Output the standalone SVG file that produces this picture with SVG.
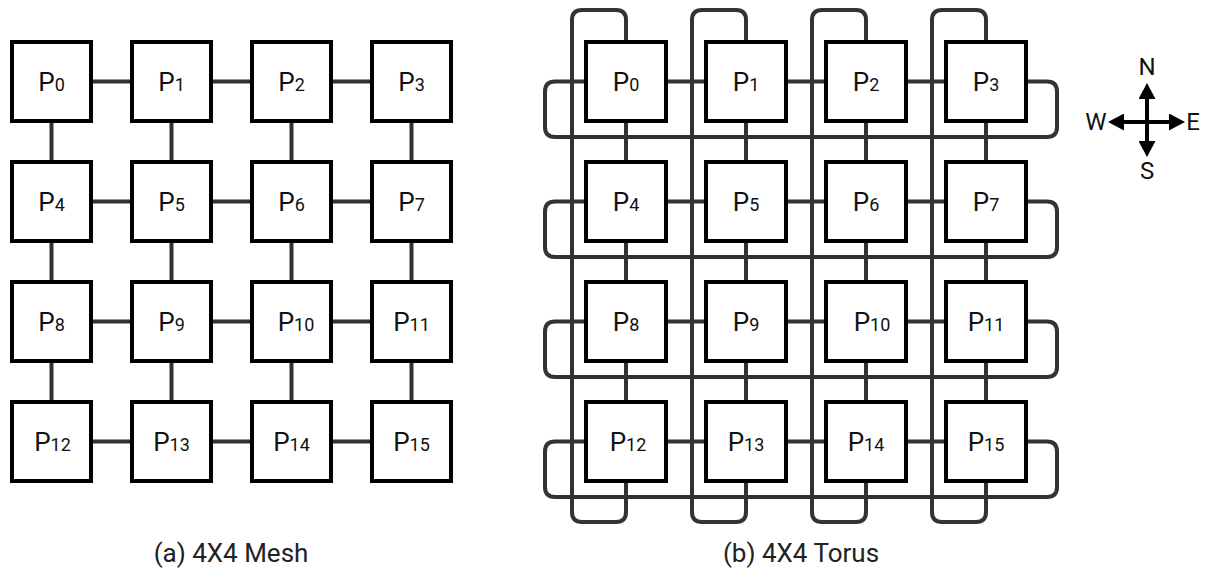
<svg xmlns="http://www.w3.org/2000/svg" width="1208" height="569" viewBox="0 0 1208 569">
<style>
.box{fill:#fff;stroke:#000;stroke-width:4}
.lbl{font-family:Roboto,"Liberation Sans",sans-serif;font-size:26px;fill:#111;text-anchor:middle}
.sub{font-size:18px}
.c{fill:none;stroke:#333;stroke-width:4}
.cap{font-family:Roboto,"Liberation Sans",sans-serif;font-size:26px;fill:#222;text-anchor:middle}
.cmp{font-family:Roboto,"Liberation Sans",sans-serif;font-size:24px;fill:#111;text-anchor:middle}
</style>
<defs>
<marker id="ah" markerUnits="userSpaceOnUse" markerWidth="16" markerHeight="17" viewBox="0 0 16 17" refX="6" refY="8.5" orient="auto">
<path d="M0,0 L16,8.5 L0,17 Z" fill="#000"/>
</marker>
</defs>
<rect width="1208" height="569" fill="#fff"/>

<g id="mesh-connectors" class="c">
<path d="M91,81.5H132M211,81.5H252M331,81.5H372"/>
<path d="M91,201.5H132M211,201.5H252M331,201.5H372"/>
<path d="M91,321.5H132M211,321.5H252M331,321.5H372"/>
<path d="M91,441.5H132M211,441.5H252M331,441.5H372"/>
<path d="M51.5,121V162M51.5,241V282M51.5,361V402"/>
<path d="M171.5,121V162M171.5,241V282M171.5,361V402"/>
<path d="M291.5,121V162M291.5,241V282M291.5,361V402"/>
<path d="M411.5,121V162M411.5,241V282M411.5,361V402"/>
</g>

<g id="mesh-P0"><rect class="box" x="12" y="42" width="79" height="79"/><text class="lbl" x="51.5" y="91">P<tspan class="sub">0</tspan></text></g>
<g id="mesh-P1"><rect class="box" x="132" y="42" width="79" height="79"/><text class="lbl" x="171.5" y="91">P<tspan class="sub">1</tspan></text></g>
<g id="mesh-P2"><rect class="box" x="252" y="42" width="79" height="79"/><text class="lbl" x="291.5" y="91">P<tspan class="sub">2</tspan></text></g>
<g id="mesh-P3"><rect class="box" x="372" y="42" width="79" height="79"/><text class="lbl" x="411.5" y="91">P<tspan class="sub">3</tspan></text></g>
<g id="mesh-P4"><rect class="box" x="12" y="162" width="79" height="79"/><text class="lbl" x="51.5" y="211">P<tspan class="sub">4</tspan></text></g>
<g id="mesh-P5"><rect class="box" x="132" y="162" width="79" height="79"/><text class="lbl" x="171.5" y="211">P<tspan class="sub">5</tspan></text></g>
<g id="mesh-P6"><rect class="box" x="252" y="162" width="79" height="79"/><text class="lbl" x="291.5" y="211">P<tspan class="sub">6</tspan></text></g>
<g id="mesh-P7"><rect class="box" x="372" y="162" width="79" height="79"/><text class="lbl" x="411.5" y="211">P<tspan class="sub">7</tspan></text></g>
<g id="mesh-P8"><rect class="box" x="12" y="282" width="79" height="79"/><text class="lbl" x="51.5" y="331">P<tspan class="sub">8</tspan></text></g>
<g id="mesh-P9"><rect class="box" x="132" y="282" width="79" height="79"/><text class="lbl" x="171.5" y="331">P<tspan class="sub">9</tspan></text></g>
<g id="mesh-P10"><rect class="box" x="252" y="282" width="79" height="79"/><text class="lbl" x="296" y="331">P<tspan class="sub">10</tspan></text></g>
<g id="mesh-P11"><rect class="box" x="372" y="282" width="79" height="79"/><text class="lbl" x="411.5" y="331">P<tspan class="sub">11</tspan></text></g>
<g id="mesh-P12"><rect class="box" x="12" y="402" width="79" height="79"/><text class="lbl" x="52.5" y="451">P<tspan class="sub">12</tspan></text></g>
<g id="mesh-P13"><rect class="box" x="132" y="402" width="79" height="79"/><text class="lbl" x="171.5" y="451">P<tspan class="sub">13</tspan></text></g>
<g id="mesh-P14"><rect class="box" x="252" y="402" width="79" height="79"/><text class="lbl" x="291.5" y="451">P<tspan class="sub">14</tspan></text></g>
<g id="mesh-P15"><rect class="box" x="372" y="402" width="79" height="79"/><text class="lbl" x="411.5" y="451">P<tspan class="sub">15</tspan></text></g>

<g id="torus-connectors" class="c">
<path d="M665,81.5H706M785,81.5H826M905,81.5H946"/>
<path d="M665,201.5H706M785,201.5H826M905,201.5H946"/>
<path d="M665,321.5H706M785,321.5H826M905,321.5H946"/>
<path d="M665,441.5H706M785,441.5H826M905,441.5H946"/>
<path d="M626,121V162M626,241V282M626,361V402"/>
<path d="M746,121V162M746,241V282M746,361V402"/>
<path d="M866,121V162M866,241V282M866,361V402"/>
<path d="M986,121V162M986,241V282M986,361V402"/>
<path d="M586,81.5H555Q545,81.5 545,91.5V127Q545,137 555,137H1047Q1057,137 1057,127V91.5Q1057,81.5 1047,81.5H1026"/>
<path d="M586,201.5H555Q545,201.5 545,211.5V247Q545,257 555,257H1047Q1057,257 1057,247V211.5Q1057,201.5 1047,201.5H1026"/>
<path d="M586,321.5H555Q545,321.5 545,331.5V367Q545,377 555,377H1047Q1057,377 1057,367V331.5Q1057,321.5 1047,321.5H1026"/>
<path d="M586,441.5H555Q545,441.5 545,451.5V487Q545,497 555,497H1047Q1057,497 1057,487V451.5Q1057,441.5 1047,441.5H1026"/>
<path d="M626,42V20Q626,10 616,10H582Q572,10 572,20V512Q572,522 582,522H616Q626,522 626,512V481"/>
<path d="M746,42V20Q746,10 736,10H702Q692,10 692,20V512Q692,522 702,522H736Q746,522 746,512V481"/>
<path d="M866,42V20Q866,10 856,10H822Q812,10 812,20V512Q812,522 822,522H856Q866,522 866,512V481"/>
<path d="M986,42V20Q986,10 976,10H942Q932,10 932,20V512Q932,522 942,522H976Q986,522 986,512V481"/>
</g>

<g id="torus-P0"><rect class="box" x="586" y="42" width="80" height="79"/><text class="lbl" x="626" y="91">P<tspan class="sub">0</tspan></text></g>
<g id="torus-P1"><rect class="box" x="706" y="42" width="80" height="79"/><text class="lbl" x="746" y="91">P<tspan class="sub">1</tspan></text></g>
<g id="torus-P2"><rect class="box" x="826" y="42" width="80" height="79"/><text class="lbl" x="866" y="91">P<tspan class="sub">2</tspan></text></g>
<g id="torus-P3"><rect class="box" x="946" y="42" width="80" height="79"/><text class="lbl" x="986" y="91">P<tspan class="sub">3</tspan></text></g>
<g id="torus-P4"><rect class="box" x="586" y="162" width="80" height="79"/><text class="lbl" x="626" y="211">P<tspan class="sub">4</tspan></text></g>
<g id="torus-P5"><rect class="box" x="706" y="162" width="80" height="79"/><text class="lbl" x="746" y="211">P<tspan class="sub">5</tspan></text></g>
<g id="torus-P6"><rect class="box" x="826" y="162" width="80" height="79"/><text class="lbl" x="866" y="211">P<tspan class="sub">6</tspan></text></g>
<g id="torus-P7"><rect class="box" x="946" y="162" width="80" height="79"/><text class="lbl" x="986" y="211">P<tspan class="sub">7</tspan></text></g>
<g id="torus-P8"><rect class="box" x="586" y="282" width="80" height="79"/><text class="lbl" x="626" y="331">P<tspan class="sub">8</tspan></text></g>
<g id="torus-P9"><rect class="box" x="706" y="282" width="80" height="79"/><text class="lbl" x="746" y="331">P<tspan class="sub">9</tspan></text></g>
<g id="torus-P10"><rect class="box" x="826" y="282" width="80" height="79"/><text class="lbl" x="872" y="331">P<tspan class="sub">10</tspan></text></g>
<g id="torus-P11"><rect class="box" x="946" y="282" width="80" height="79"/><text class="lbl" x="986" y="331">P<tspan class="sub">11</tspan></text></g>
<g id="torus-P12"><rect class="box" x="586" y="402" width="80" height="79"/><text class="lbl" x="628" y="451">P<tspan class="sub">12</tspan></text></g>
<g id="torus-P13"><rect class="box" x="706" y="402" width="80" height="79"/><text class="lbl" x="746" y="451">P<tspan class="sub">13</tspan></text></g>
<g id="torus-P14"><rect class="box" x="826" y="402" width="80" height="79"/><text class="lbl" x="866" y="451">P<tspan class="sub">14</tspan></text></g>
<g id="torus-P15"><rect class="box" x="946" y="402" width="80" height="79"/><text class="lbl" x="986" y="451">P<tspan class="sub">15</tspan></text></g>

<g id="compass">
<g stroke="#000" stroke-width="4">
<line x1="1147" y1="122" x2="1175" y2="122" marker-end="url(#ah)"/>
<line x1="1147" y1="122" x2="1118" y2="122" marker-end="url(#ah)"/>
<line x1="1147" y1="122" x2="1147" y2="93" marker-end="url(#ah)"/>
<line x1="1147" y1="122" x2="1147" y2="147" marker-end="url(#ah)"/>
</g>
<text class="cmp" x="1147" y="75">N</text>
<text class="cmp" x="1096" y="130">W</text>
<text class="cmp" x="1193" y="130">E</text>
<text class="cmp" x="1147" y="179">S</text>
</g>

<text id="caption-a" class="cap" x="231" y="562">(a) 4X4 Mesh</text>
<text id="caption-b" class="cap" x="801" y="562">(b) 4X4 Torus</text>
</svg>
